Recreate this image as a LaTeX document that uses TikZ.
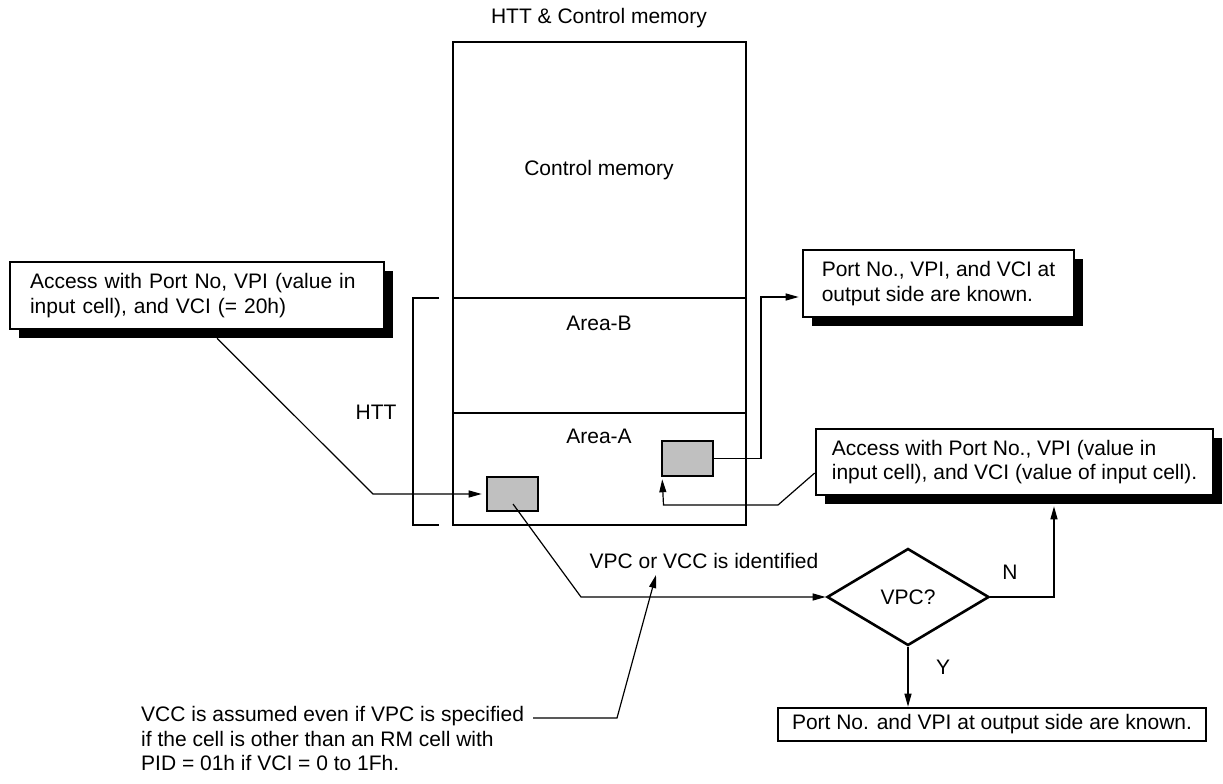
\documentclass[tikz,border=0pt]{standalone}
\usepackage{fontspec}
\setmainfont{Liberation Sans}
\usetikzlibrary{shapes.geometric,arrows.meta,shadows}
\definecolor{cellgray}{RGB}{192,192,192}
\begin{document}
\begin{tikzpicture}[x=1pt,y=-1pt,
  every node/.style={font=\fontsize{21}{24.5}\selectfont},
  tbox/.style={draw,line width=2.6pt,fill=white,inner ysep=0pt,
    drop shadow={shadow xshift=8.5pt,shadow yshift=-8.5pt,opacity=1,fill=black}},
  plainbox/.style={draw,line width=2.6pt,fill=white,inner ysep=0pt},
  cellbox/.style={draw,line width=2.6pt,fill=cellgray,inner sep=0pt},
  memline/.style={line width=2.8pt},
  conn/.style={line width=1.2pt},
  arr/.style={conn,-{Triangle[length=13pt,width=7pt]}},
  lbl/.style={inner sep=0pt}
]
\useasboundingbox (0,0) rectangle (1223,784);

% memory block
\draw[memline] (453,42) rectangle (746,525);
\draw[memline] (453,298) -- (746,298);
\draw[memline] (453,413) -- (746,413);
\node[lbl] (title) at (599,18) {HTT \& Control memory};
\node[lbl] (cm) at (599,170) {Control memory};
\node[lbl] (areab) at (599,323) {Area-B};
\node[lbl] (areaa) at (599,436) {Area-A};
\node[lbl] (htt) at (376,412) {HTT};
\draw[conn] (439,298) -- (413,298) -- (413,525) -- (439,525);

% cells
\node[cellbox,minimum width=51pt,minimum height=34pt] (g1) at (512.5,494) {};
\node[cellbox,minimum width=51pt,minimum height=35pt] (g2) at (687.5,458.5) {};

% boxes
\node[tbox,text width=334pt,inner xsep=20pt,align=left,minimum width=374pt,minimum height=67pt] (lb) at (197,295.5)
  {Access with Port No, VPI (value in\\input cell), and VCI (= 20h)};
\node[tbox,align=left,minimum width=271pt,minimum height=67pt] (tr) at (938.5,283.5)
  {Port No., VPI, and VCI at\\output side are known.};
\node[tbox,align=left,minimum width=397pt,minimum height=66pt] (lr) at (1014.5,462)
  {Access with Port No., VPI (value in\\input cell), and VCI (value of input cell).};
\node[plainbox,minimum width=428pt,minimum height=33pt] (bb) at (992,724.5)
  {Port No. and VPI at output side are known.};

% decision
\node[draw,diamond,line width=2.6pt,minimum width=162pt,minimum height=97pt,inner sep=0pt] (dia) at (908,597) {VPC?};
\node[lbl] (nlab) at (1010,572) {N};
\node[lbl] (ylab) at (943,667) {Y};
\node[lbl] (vpcid) at (704,561) {VPC or VCC is identified};

% note
\node[lbl,anchor=west,align=left] (note) at (141,738.5)
  {VCC is assumed even if VPC is specified\\if the cell is other than an RM cell with\\PID = 01h if VCI = 0 to 1Fh.};
\coordinate (idtip) at (656,575);

% connectors
\draw[arr] ([shift={(20,8)}]lb.south) -- (373,494) -- ([shift={(-4,0)}]g1.west);
\draw[arr] ([shift={(0.5,10)}]g1.center) -- (581,597) -- (dia.west);
\draw[arr] (g2.east) -- (761,458.5) -- (761,297) -- ([shift={(-3,13.5)}]tr.west);
\draw[arr] ([shift={(0,11)}]lr.west) -- (778,505) -- (663.5,505) -- ([shift={(1.5,2)}]g2.south west);
\draw[arr] (dia.east) -- (1054,597) -- ([shift={(39.5,10)}]lr.south);
\draw[arr] (dia.south) -- (dia.south |- bb.north);
\draw[arr] ([shift={(9,-20.5)}]note.east) -- (617,718) -- (idtip);
\end{tikzpicture}
\end{document}
